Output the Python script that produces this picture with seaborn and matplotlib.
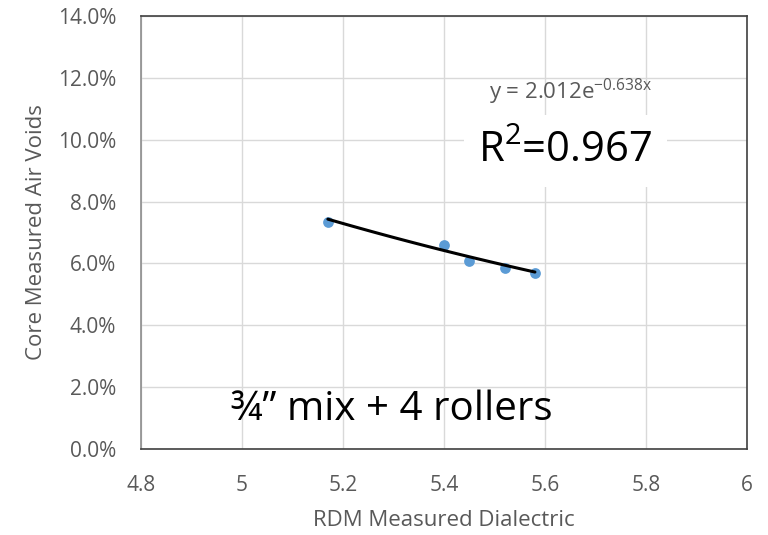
import numpy as np
import pandas as pd
import matplotlib
matplotlib.use("Agg")
import matplotlib.pyplot as plt
import seaborn as sns
from matplotlib.ticker import FuncFormatter, MultipleLocator

# Data
rdm_dielectric = [5.17, 5.40, 5.45, 5.52, 5.58]
air_voids = [0.0734, 0.0660, 0.0608, 0.0585, 0.0569]
fit_a = 2.012
fit_b = -0.638
r_squared = 0.967
x_ticks = [4.8, 5.0, 5.2, 5.4, 5.6, 5.8, 6.0]
x_tick_labels = ["4.8", "5", "5.2", "5.4", "5.6", "5.8", "6"]

df = pd.DataFrame({"x": rdm_dielectric, "y": air_voids})

sns.set_theme(style="white")
plt.rcParams["font.family"] = ["Open Sans", "DejaVu Sans"]
plt.rcParams["mathtext.fontset"] = "custom"
plt.rcParams["mathtext.rm"] = "Open Sans"

fig = plt.figure(figsize=(7.68, 5.35), dpi=100)
ax = fig.add_axes([0.1836, 0.1607, 0.9727 - 0.1836, 0.9701 - 0.1607])

# gridlines
ax.set_axisbelow(True)
ax.grid(True, color="#d9d9d9", linewidth=1.0)

# trendline
xs = np.linspace(min(rdm_dielectric), max(rdm_dielectric), 100)
trend = pd.DataFrame({"x": xs, "y": fit_a * np.exp(fit_b * xs)})
sns.lineplot(data=trend, x="x", y="y", ax=ax, color="black", linewidth=2.2, zorder=4)

sns.scatterplot(data=df, x="x", y="y", ax=ax, color="#5B9BD5", s=60,
                edgecolor="#5B9BD5", linewidth=0, zorder=3)

ax.set_xlim(4.8, 6.0)
ax.set_ylim(0, 0.14)
ax.set_xticks(x_ticks)
ax.set_xticklabels(x_tick_labels)
ax.yaxis.set_major_locator(MultipleLocator(0.02))
ax.yaxis.set_major_formatter(FuncFormatter(lambda v, p: f"{v*100:.1f}%"))
ax.tick_params(axis="y", labelsize=15, colors="#595959", length=0, pad=18)
ax.tick_params(axis="x", labelsize=15, colors="#595959", length=0, pad=19)

ax.set_xlabel("RDM Measured Dialectric", fontsize=16, color="#595959", labelpad=10)
ax.set_ylabel("Core Measured Air Voids", fontsize=16, color="#595959", labelpad=8)

for s in ax.spines.values():
    s.set_visible(True)
    s.set_color("#404040")
    s.set_linewidth(1.2)
ax.spines["left"].set_color("#8c8c8c")

# annotations
ax.text(5.651, 0.1132, f"y = {fit_a:.3f}e" + r"$^{\mathregular{" + f"{fit_b:.3f}x" + r"}}$",
        fontsize=16, color="#595959", ha="center", va="baseline", zorder=5)
ax.text(5.640, 0.0928, r"R$^{\mathregular{2}}$=" + f"{r_squared:.3f}", fontsize=30,
        color="black", ha="center", va="baseline",
        bbox=dict(facecolor="white", edgecolor="none", boxstyle="square,pad=0.35"), zorder=5)
ax.text(5.297, 0.0094, "¾” mix + 4 rollers", fontsize=29, color="black",
        ha="center", va="baseline", zorder=5)

fig.savefig("out.png", dpi=100)
